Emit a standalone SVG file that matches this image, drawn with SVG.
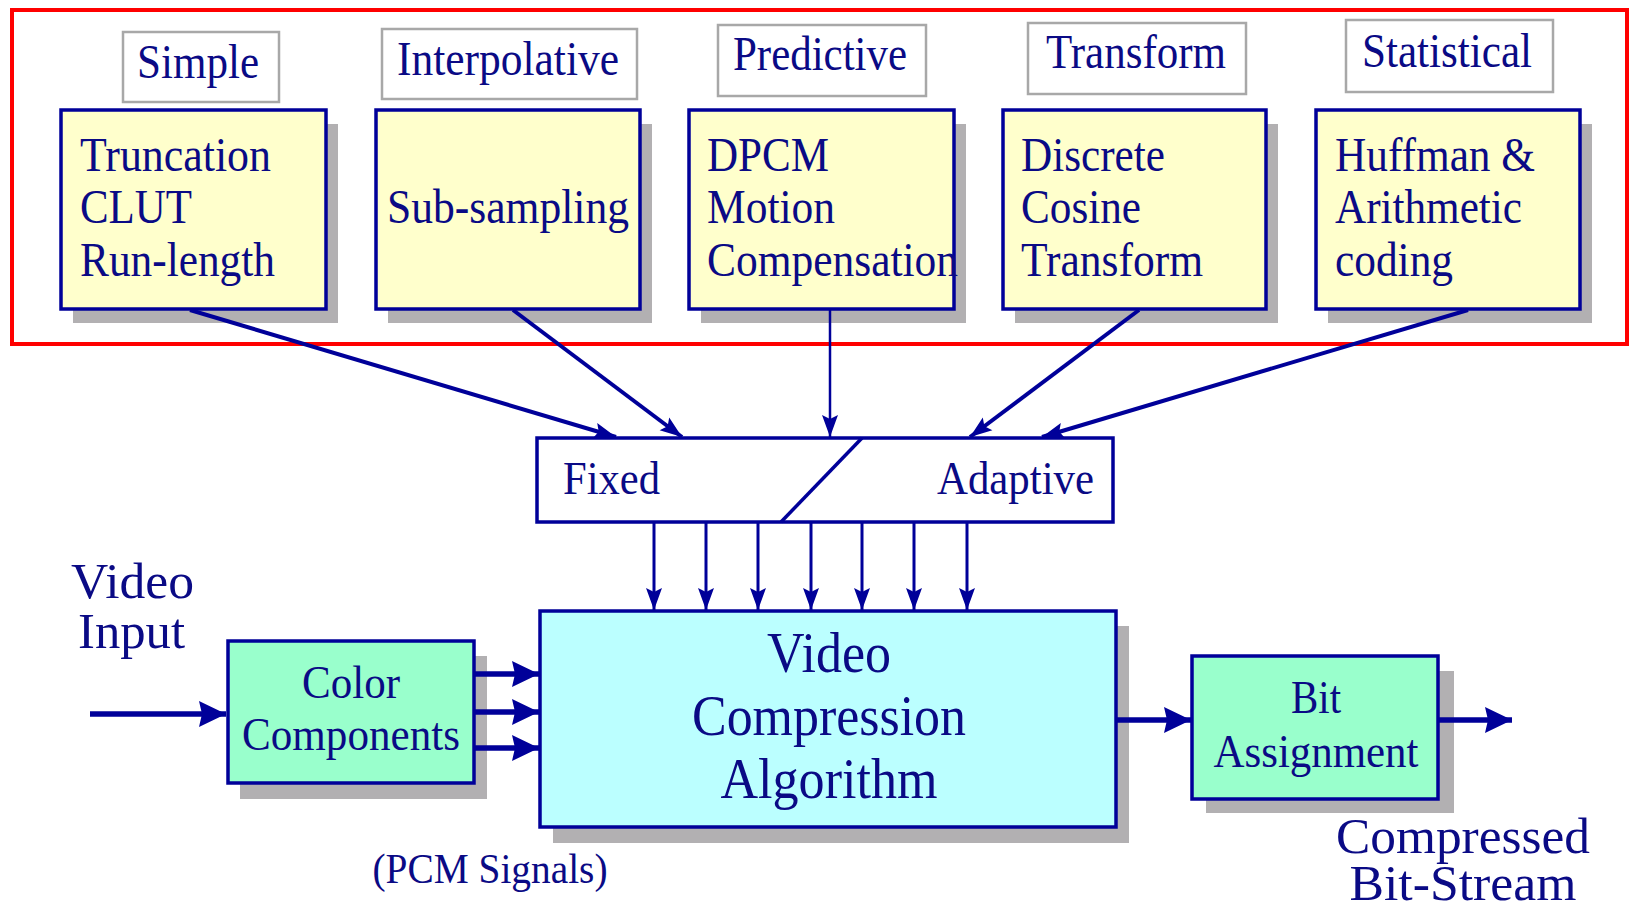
<svg xmlns="http://www.w3.org/2000/svg" width="1633" height="913" viewBox="0 0 1633 913">
<style>
.t{font-family:"Liberation Serif","Times New Roman",serif;fill:#0a0a85}
.shadow{fill:#b2b0b2}
.yel{fill:#ffffcc;stroke:#000099;stroke-width:3.5}
.mint{fill:#99ffcc;stroke:#000099;stroke-width:3.5}
.cyan{fill:#bbffff;stroke:#000099;stroke-width:3.5}
.lbl{fill:#ffffff;stroke:#a8a8a8;stroke-width:2.5}
.c{stroke:#000099;fill:none}
</style>
<defs>
<marker id="ah" markerUnits="userSpaceOnUse" markerWidth="24" markerHeight="18" viewBox="0 0 24 18" refX="22" refY="9" orient="auto"><path d="M0,1 L22,9 L0,17 L4,9 z" fill="#000099"/></marker>
<marker id="big" markerUnits="userSpaceOnUse" markerWidth="28" markerHeight="28" viewBox="0 0 28 28" refX="27" refY="14" orient="auto"><path d="M0,1 L27,14 L0,27 L3,14 z" fill="#000099"/></marker>
</defs>
<rect x="0" y="0" width="1633" height="913" fill="#ffffff"/>

<!-- red frame -->
<rect id="frame" x="12" y="10" width="1615" height="334" fill="none" stroke="#ff0000" stroke-width="4"/>

<!-- category labels -->
<g id="lbl-simple"><rect class="lbl" x="123" y="32" width="156" height="70"/><text class="t" x="137" y="78" font-size="48" textLength="122" lengthAdjust="spacingAndGlyphs">Simple</text></g>
<g id="lbl-interp"><rect class="lbl" x="382" y="29" width="255" height="70"/><text class="t" x="397" y="75" font-size="48" textLength="222" lengthAdjust="spacingAndGlyphs">Interpolative</text></g>
<g id="lbl-pred"><rect class="lbl" x="718" y="25" width="208" height="71"/><text class="t" x="733" y="70" font-size="48" textLength="174" lengthAdjust="spacingAndGlyphs">Predictive</text></g>
<g id="lbl-trans"><rect class="lbl" x="1028" y="23" width="218" height="71"/><text class="t" x="1046" y="68" font-size="48" textLength="180" lengthAdjust="spacingAndGlyphs">Transform</text></g>
<g id="lbl-stat"><rect class="lbl" x="1346" y="20" width="207" height="72"/><text class="t" x="1362" y="67" font-size="48" textLength="170" lengthAdjust="spacingAndGlyphs">Statistical</text></g>

<!-- yellow boxes -->
<g id="box-simple"><rect class="shadow" x="73" y="124" width="265" height="199"/><rect class="yel" x="61" y="110" width="265" height="199"/>
<text class="t" x="80" y="171" font-size="48" textLength="191" lengthAdjust="spacingAndGlyphs">Truncation</text>
<text class="t" x="80" y="223" font-size="48" textLength="112" lengthAdjust="spacingAndGlyphs">CLUT</text>
<text class="t" x="80" y="276" font-size="48" textLength="195" lengthAdjust="spacingAndGlyphs">Run-length</text></g>
<g id="box-interp"><rect class="shadow" x="388" y="124" width="264" height="199"/><rect class="yel" x="376" y="110" width="264" height="199"/>
<text class="t" x="387" y="223" font-size="48" textLength="242" lengthAdjust="spacingAndGlyphs">Sub-sampling</text></g>
<g id="box-pred"><rect class="shadow" x="701" y="124" width="265" height="199"/><rect class="yel" x="689" y="110" width="265" height="199"/>
<text class="t" x="707" y="171" font-size="48" textLength="122" lengthAdjust="spacingAndGlyphs">DPCM</text>
<text class="t" x="707" y="223" font-size="48" textLength="128" lengthAdjust="spacingAndGlyphs">Motion</text>
<text class="t" x="707" y="276" font-size="48" textLength="251" lengthAdjust="spacingAndGlyphs">Compensation</text></g>
<g id="box-trans"><rect class="shadow" x="1015" y="124" width="263" height="199"/><rect class="yel" x="1003" y="110" width="263" height="199"/>
<text class="t" x="1021" y="171" font-size="48" textLength="144" lengthAdjust="spacingAndGlyphs">Discrete</text>
<text class="t" x="1021" y="223" font-size="48" textLength="120" lengthAdjust="spacingAndGlyphs">Cosine</text>
<text class="t" x="1021" y="276" font-size="48" textLength="182" lengthAdjust="spacingAndGlyphs">Transform</text></g>
<g id="box-stat"><rect class="shadow" x="1328" y="124" width="264" height="199"/><rect class="yel" x="1316" y="110" width="264" height="199"/>
<text class="t" x="1335" y="171" font-size="48" textLength="200" lengthAdjust="spacingAndGlyphs">Huffman &amp;</text>
<text class="t" x="1335" y="223" font-size="48" textLength="187" lengthAdjust="spacingAndGlyphs">Arithmetic</text>
<text class="t" x="1335" y="276" font-size="48" textLength="118" lengthAdjust="spacingAndGlyphs">coding</text></g>

<!-- fixed / adaptive -->
<g id="fixed-adaptive"><rect x="537" y="438" width="576" height="84" fill="#ffffff" stroke="#000099" stroke-width="3.5"/>
<line x1="862" y1="438" x2="781" y2="522" stroke="#000099" stroke-width="3.5"/>
<text class="t" x="563" y="494" font-size="47" textLength="97" lengthAdjust="spacingAndGlyphs">Fixed</text>
<text class="t" x="937" y="494" font-size="47" textLength="157" lengthAdjust="spacingAndGlyphs">Adaptive</text></g>

<!-- bottom row -->
<g id="video-input"><text class="t" x="71" y="598" font-size="50" textLength="123" lengthAdjust="spacingAndGlyphs">Video</text>
<text class="t" x="78" y="648" font-size="50" textLength="107" lengthAdjust="spacingAndGlyphs">Input</text></g>
<g id="color-comp"><rect class="shadow" x="240" y="656" width="247" height="143"/><rect class="mint" x="228" y="641" width="246" height="142"/>
<text class="t" x="351" y="698" font-size="47" text-anchor="middle" textLength="98" lengthAdjust="spacingAndGlyphs">Color</text>
<text class="t" x="351" y="750" font-size="47" text-anchor="middle" textLength="218" lengthAdjust="spacingAndGlyphs">Components</text></g>
<g id="vca"><rect class="shadow" x="553" y="626" width="576" height="217"/><rect class="cyan" x="540" y="611" width="576" height="216"/>
<text class="t" x="829" y="672" font-size="57" text-anchor="middle" textLength="124" lengthAdjust="spacingAndGlyphs">Video</text>
<text class="t" x="829" y="735" font-size="57" text-anchor="middle" textLength="274" lengthAdjust="spacingAndGlyphs">Compression</text>
<text class="t" x="829" y="798" font-size="57" text-anchor="middle" textLength="217" lengthAdjust="spacingAndGlyphs">Algorithm</text></g>
<g id="bit-assign"><rect class="shadow" x="1206" y="671" width="248" height="142"/><rect class="mint" x="1192" y="656" width="246" height="143"/>
<text class="t" x="1316" y="713" font-size="47" text-anchor="middle" textLength="50" lengthAdjust="spacingAndGlyphs">Bit</text>
<text class="t" x="1316" y="767" font-size="47" text-anchor="middle" textLength="205" lengthAdjust="spacingAndGlyphs">Assignment</text></g>
<g id="pcm"><text class="t" x="490" y="883" font-size="43" text-anchor="middle" textLength="235" lengthAdjust="spacingAndGlyphs">(PCM Signals)</text></g>
<g id="out-label"><text class="t" x="1463" y="853" font-size="50" text-anchor="middle" textLength="254" lengthAdjust="spacingAndGlyphs">Compressed</text>
<text class="t" x="1463" y="900" font-size="50" text-anchor="middle" textLength="227" lengthAdjust="spacingAndGlyphs">Bit-Stream</text></g>

<!-- connectors -->
<g id="connectors" class="c">
<line x1="190" y1="310" x2="616" y2="437" stroke-width="4" marker-end="url(#ah)"/>
<line x1="513" y1="310" x2="682" y2="437" stroke-width="4" marker-end="url(#ah)"/>
<line x1="830" y1="310" x2="830" y2="437" stroke-width="2.5" marker-end="url(#ah)"/>
<line x1="1139" y1="310" x2="970" y2="437" stroke-width="4" marker-end="url(#ah)"/>
<line x1="1468" y1="310" x2="1042" y2="437" stroke-width="4" marker-end="url(#ah)"/>
<line x1="654" y1="522" x2="654" y2="610" stroke-width="3" marker-end="url(#ah)"/>
<line x1="706" y1="522" x2="706" y2="610" stroke-width="3" marker-end="url(#ah)"/>
<line x1="758" y1="522" x2="758" y2="610" stroke-width="3" marker-end="url(#ah)"/>
<line x1="811" y1="522" x2="811" y2="610" stroke-width="3" marker-end="url(#ah)"/>
<line x1="862" y1="522" x2="862" y2="610" stroke-width="3" marker-end="url(#ah)"/>
<line x1="914" y1="522" x2="914" y2="610" stroke-width="3" marker-end="url(#ah)"/>
<line x1="967" y1="522" x2="967" y2="610" stroke-width="3" marker-end="url(#ah)"/>
<line x1="90" y1="714" x2="226" y2="714" stroke-width="5.5" marker-end="url(#big)"/>
<line x1="474" y1="674" x2="539" y2="674" stroke-width="5.5" marker-end="url(#big)"/>
<line x1="474" y1="712" x2="539" y2="712" stroke-width="5.5" marker-end="url(#big)"/>
<line x1="474" y1="748" x2="539" y2="748" stroke-width="5.5" marker-end="url(#big)"/>
<line x1="1116" y1="720" x2="1191" y2="720" stroke-width="5.5" marker-end="url(#big)"/>
<line x1="1438" y1="720" x2="1512" y2="720" stroke-width="5.5" marker-end="url(#big)"/>
</g>
</svg>
